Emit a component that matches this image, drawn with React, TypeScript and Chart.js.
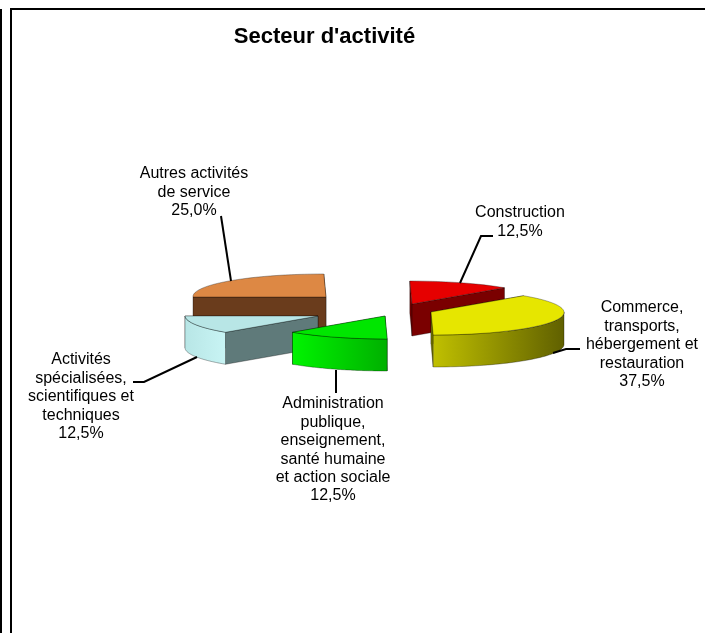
import React, { useEffect, useRef } from "react";
import { Chart, registerables } from "chart.js";

Chart.register(...registerables);

const categories = [
  ["Construction"],
  ["Commerce,", "transports,", "hébergement et", "restauration"],
  ["Administration", "publique,", "enseignement,", "santé humaine", "et action sociale"],
  ["Activités", "spécialisées,", "scientifiques et", "techniques"],
  ["Autres activités", "de service"],
];
const shares = [12.5, 37.5, 12.5, 12.5, 25];
const topColors = ["#e60000", "#e6e600", "#00e600", "#b8e6e6", "#dd8844"];
const innerWallColors = ["#7a0000", "#7a7a00", "#008000", "#5f7a7a", "#6a3c1c"];
const outerWallStops = [
  ["#7a0000", "#7a0000"],
  ["#c0c000", "#606000"],
  ["#00f400", "#00b000"],
  ["#b8e6e6", "#c8f4f4"],
  ["#6a3c1c", "#6a3c1c"],
];
// Per-slice exploded centres in page pixels, painter order and label layout.
const centres = [
  [412, 304],
  [431, 312],
  [385, 316],
  [318, 316],
  [326, 297],
];
const paintOrder = [4, 0, 3, 2, 1];
const labelCentres = [
  [520, 213],
  [642, 308],
  [333, 404],
  [81, 360],
  [194, 174],
];
const leaders = [
  [[460, 283], [481, 236], [493, 236]],
  [[553, 353], [566, 349], [580, 349]],
  [[336, 370], [336, 393]],
  [[197, 357], [144, 382], [133, 382]],
  [[231, 281], [221, 216]],
];
const RADIUS = 133;
const SQUASH = 0.173;
const SHEAR = 0.0165;
const DEPTH = 32;
const LINE_STEP = 18.4;
const FONT = "16px 'Liberation Sans', Arial, sans-serif";
const TITLE = "Secteur d'activité";

const ptAt = (c: number[], a: number, depth = 0) => {
  const ux = Math.cos(a) * RADIUS;
  const uy = Math.sin(a) * RADIUS;
  return [c[0] + ux + SHEAR * uy, c[1] + SQUASH * uy + depth];
};

function radialWalls(ctx: CanvasRenderingContext2D, c: number[], s: number, e: number, fn: () => void) {
  const pts = [ptAt(c, s), ptAt(c, e)].sort((a, b) => a[1] - b[1]); // back wall first
  pts.forEach((p) => {
    ctx.beginPath();
    ctx.moveTo(c[0], c[1]);
    ctx.lineTo(p[0], p[1]);
    ctx.lineTo(p[0], p[1] + DEPTH);
    ctx.lineTo(c[0], c[1] + DEPTH);
    ctx.closePath();
    fn();
  });
}

const pie3d = {
  id: "pie3d",
  beforeDraw(chart: any) {
    const ctx = chart.ctx;
    ctx.save();
    ctx.fillStyle = "#000";
    ctx.fillRect(0, 9, 2, 624);
    ctx.fillRect(10, 8, 2, 625);
    ctx.fillRect(10, 8, 695, 2);
    ctx.restore();
  },
  beforeDatasetDraw(chart: any) {
    const ctx: CanvasRenderingContext2D = chart.ctx;
    const arcs = chart.getDatasetMeta(0).data;
    const edge = "rgba(0,0,0,0.45)";
    paintOrder.forEach((i) => {
      const arc = arcs[i];
      const c = centres[i];
      const s = arc.startAngle;
      const e = arc.endAngle;
      ctx.save();
      ctx.lineWidth = 0.7;
      ctx.strokeStyle = edge;
      ctx.lineJoin = "round";
      ctx.fillStyle = innerWallColors[i];
      radialWalls(ctx, c, s, e, () => {
        ctx.fill();
        ctx.stroke();
      });
      // outer curved wall: only the part of the rim facing the viewer
      const a0 = Math.max(s, 0);
      const a1 = Math.min(e, Math.PI);
      if (a1 > a0) {
        const pA = ptAt(c, a0);
        const pB = ptAt(c, a1);
        const g = ctx.createLinearGradient(Math.min(pA[0], pB[0]), 0, Math.max(pA[0], pB[0]), 0);
        const stops = outerWallStops[i];
        g.addColorStop(0, stops[0]);
        g.addColorStop(1, stops[1]);
        ctx.fillStyle = g;
        ctx.beginPath();
        const N = 48;
        for (let k = 0; k <= N; k++) {
          const p = ptAt(c, a0 + ((a1 - a0) * k) / N);
          if (k === 0) ctx.moveTo(p[0], p[1]);
          else ctx.lineTo(p[0], p[1]);
        }
        for (let k = N; k >= 0; k--) {
          const p = ptAt(c, a0 + ((a1 - a0) * k) / N, DEPTH);
          ctx.lineTo(p[0], p[1]);
        }
        ctx.closePath();
        ctx.fill();
        ctx.stroke();
      }
      // top face: the library's own arc element, under a flattening transform
      ctx.save();
      ctx.transform(1, 0, SHEAR, SQUASH, c[0], c[1]);
      ctx.translate(-arc.x, -arc.y);
      arc.draw(ctx);
      ctx.restore();
      // outline of the top face at constant line width
      ctx.beginPath();
      ctx.moveTo(c[0], c[1]);
      const N = 64;
      for (let k = 0; k <= N; k++) {
        const p = ptAt(c, s + ((e - s) * k) / N);
        ctx.lineTo(p[0], p[1]);
      }
      ctx.closePath();
      ctx.stroke();
      ctx.restore();
    });
    return false;
  },
  afterDatasetsDraw(chart: any) {
    const ctx: CanvasRenderingContext2D = chart.ctx;
    ctx.save();
    ctx.strokeStyle = "#000";
    ctx.lineWidth = 2;
    leaders.forEach((pts) => {
      ctx.beginPath();
      pts.forEach((p, k) => (k ? ctx.lineTo(p[0], p[1]) : ctx.moveTo(p[0], p[1])));
      ctx.stroke();
    });
    ctx.fillStyle = "#000";
    ctx.font = FONT;
    ctx.textAlign = "center";
    ctx.textBaseline = "middle";
    categories.forEach((lines, i) => {
      const pct = shares[i].toFixed(1).replace(".", ",") + "%";
      [...lines, pct].forEach((t, k) => {
        ctx.fillText(t, labelCentres[i][0], labelCentres[i][1] + k * LINE_STEP);
      });
    });
    ctx.restore();
  },
};

export default function App() {
  const ref = useRef<HTMLCanvasElement>(null);
  useEffect(() => {
    document.body.style.margin = "0";
    const chart = new Chart(ref.current!, {
      type: "pie",
      data: {
        labels: categories.map((l) => l.join(" ")),
        datasets: [
          {
            data: shares,
            backgroundColor: topColors,
            borderWidth: 0,
            radius: RADIUS,
          },
        ],
      },
      options: {
        responsive: false,
        animation: false,
        rotation: 0,
        layout: { padding: { right: 56, top: 24 } },
        plugins: {
          legend: { display: false },
          tooltip: { enabled: false },
          title: {
            display: true,
            text: TITLE,
            color: "#000",
            font: { family: "'Liberation Sans', Arial, sans-serif", size: 22, weight: "bold" },
            padding: 0,
          },
        },
      },
      plugins: [pie3d],
    } as any);
    return () => chart.destroy();
  }, []);
  return <canvas ref={ref} width={705} height={633} style={{ display: "block", width: 705, height: 633 }} />;
}
